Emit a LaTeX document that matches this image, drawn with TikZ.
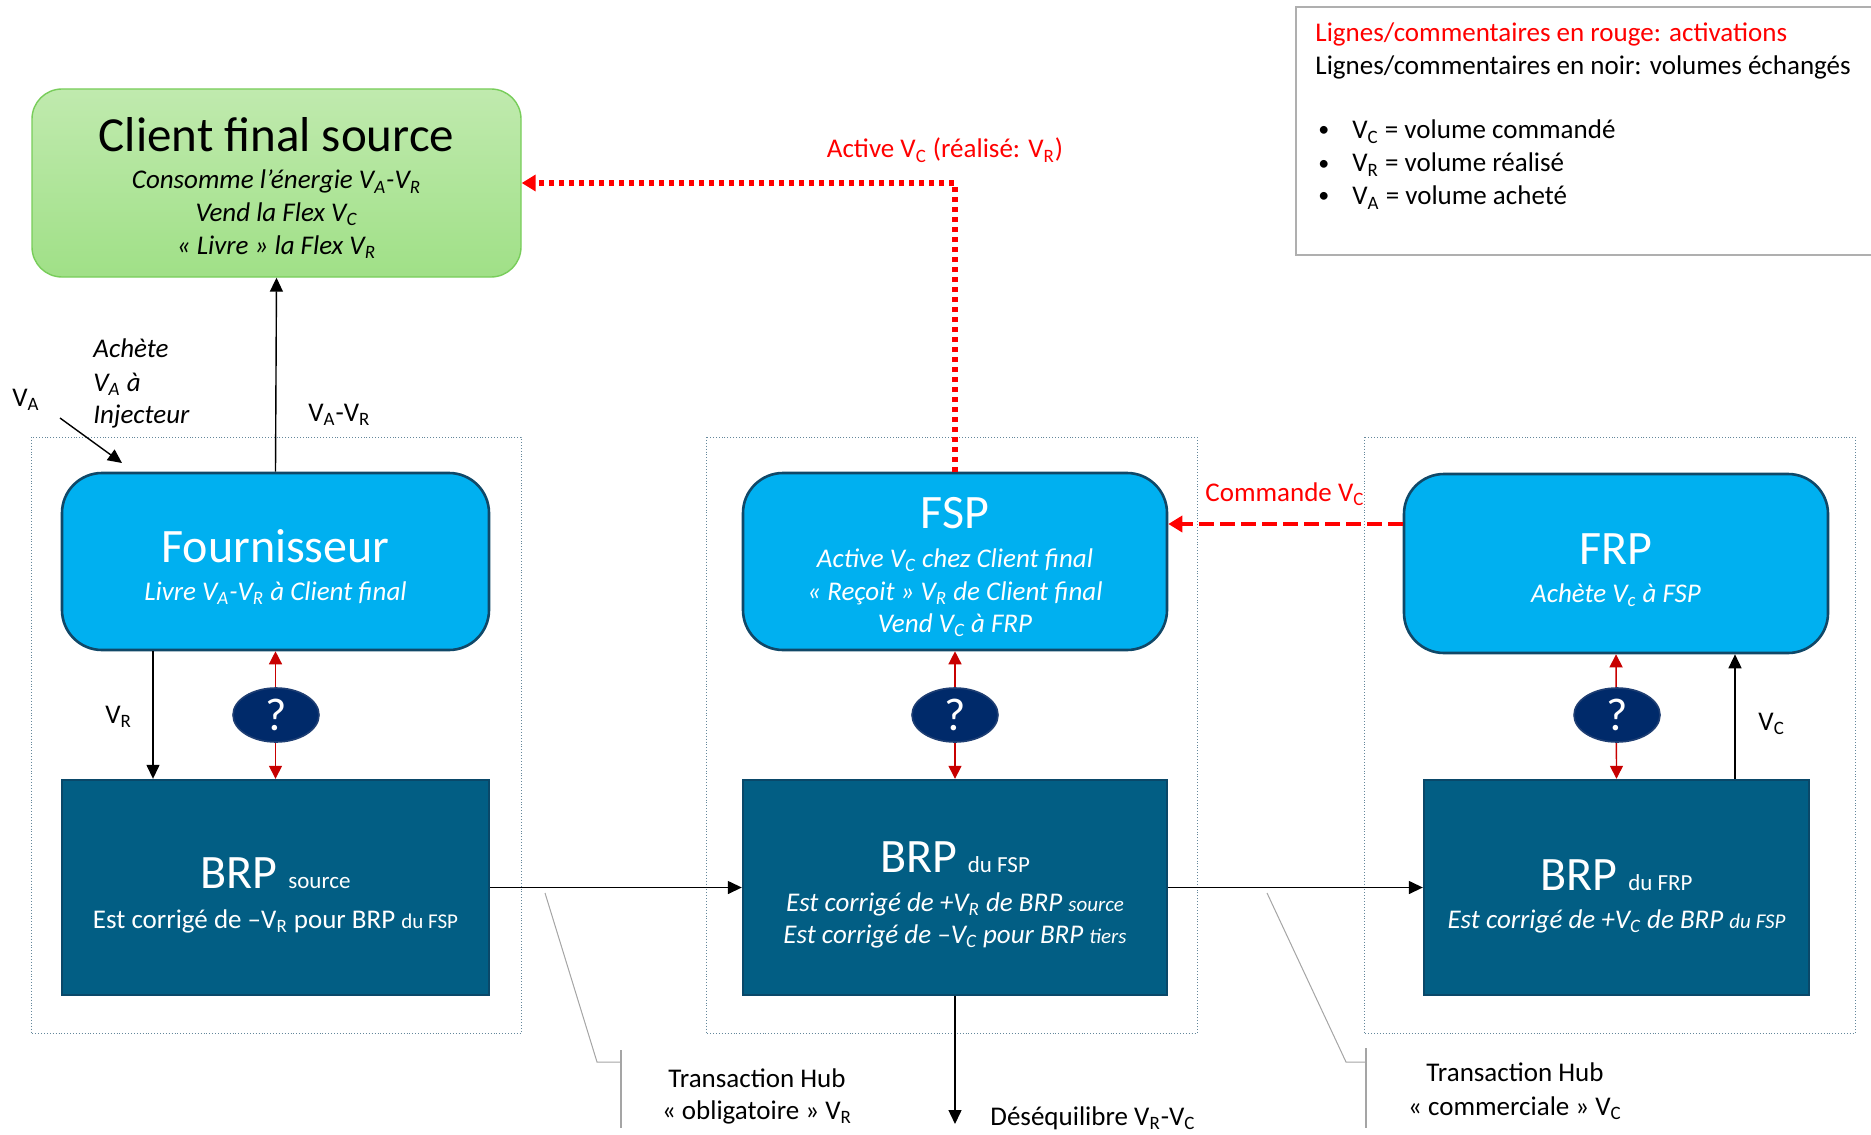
\documentclass[tikz,border=0pt]{standalone}
\usepackage{fontspec}
\setmainfont{Carlito}
\usetikzlibrary{arrows.meta,shapes.geometric,calc}
\definecolor{cgreenT}{RGB}{192,234,174}
\definecolor{cgreenB}{RGB}{160,224,135}
\definecolor{cgreenD}{RGB}{120,205,90}
\definecolor{lblue}{RGB}{0,176,240}
\definecolor{bordblue}{RGB}{16,72,104}
\definecolor{brpfill}{RGB}{2,94,132}
\definecolor{brpbord}{RGB}{10,72,105}
\definecolor{qfill}{RGB}{0,42,106}
\definecolor{qbord}{RGB}{30,62,115}
\definecolor{grpcol}{RGB}{100,135,155}
\definecolor{actred}{RGB}{255,0,0}
\definecolor{dred}{RGB}{200,0,0}
\definecolor{calgray}{RGB}{165,165,165}
\definecolor{leggray}{RGB}{175,175,175}
\tikzset{
  clientbox/.style={rounded corners=15pt, top color=cgreenT, bottom color=cgreenB, draw=cgreenD, line width=0.7pt, minimum width=244.5pt, minimum height=94pt, inner sep=0pt},
  actorbox/.style={rounded corners=20pt, fill=lblue, draw=bordblue, line width=1.3pt, minimum height=88.5pt, inner sep=0pt},
  brpbox/.style={fill=brpfill, draw=brpbord, line width=1.2pt, minimum height=107.5pt, inner sep=0pt},
  qnode/.style={ellipse, fill=qfill, draw=qbord, line width=0.8pt, minimum width=43pt, minimum height=27pt, inner sep=0pt, text=white, font=\fontsize{23}{25}\selectfont},
  grp/.style={draw=grpcol, densely dotted, line width=0.45pt},
  arr/.style={-{Triangle[length=7pt,width=6.5pt]}, line width=0.7pt, draw=black},
  dblred/.style={{Triangle[length=6.5pt,width=6.5pt]}-{Triangle[length=6.5pt,width=6.5pt]}, draw=dred, line width=0.7pt},
  actdot/.style={draw=actred, line width=2.6pt, dash pattern=on 2.6pt off 2.4pt, -{Triangle[length=7pt,width=8pt]}},
  cmddash/.style={draw=actred, line width=2.4pt, dash pattern=on 7.5pt off 3pt, -{Triangle[length=7pt,width=8pt]}},
  callout/.style={draw=calgray, line width=0.5pt},
  bracket/.style={draw=calgray, line width=0.7pt},
  ttl/.style={anchor=base, inner sep=0pt, font=\fontsize{24}{28}\selectfont},
  subi/.style={anchor=base, inner sep=0pt, font=\fontsize{13.5}{16}\selectfont\itshape},
  subr/.style={anchor=base, inner sep=0pt, font=\fontsize{13.5}{16}\selectfont},
  lbl/.style={anchor=base west, inner sep=0pt, font=\fontsize{13.5}{16}\selectfont},
  lblc/.style={anchor=base, inner sep=0pt, font=\fontsize{13.5}{16}\selectfont},
}
\newcommand{\sm}[1]{{\fontsize{10.5}{12}\selectfont #1}}
\newcommand{\smt}[1]{{\fontsize{11.5}{13}\selectfont #1}}
\begin{document}
\begin{tikzpicture}[x=0.5pt,y=-0.5pt]
\useasboundingbox (0,0) rectangle (1871,1134);
\fill[white] (0,0) rectangle (1871,1134);

% legend
\draw[leggray, line width=0.8pt] (1885,7) -- (1296,7) -- (1296,255) -- (1885,255);
\node[lbl, text=actred] (leg1) at (1315,42) {Lignes/commentaires en rouge: activations};
\node[lbl] (leg2) at (1315,75) {Lignes/commentaires en noir: volumes échangés};
\node[lbl, font=\fontsize{11}{13}\selectfont] (b1) at (1318,137) {•};
\node[lbl, font=\fontsize{11}{13}\selectfont] (b2) at (1318,170) {•};
\node[lbl, font=\fontsize{11}{13}\selectfont] (b3) at (1318,203) {•};
\node[lbl] (leg3) at (1352,139) {V\textsubscript{C} = volume commandé};
\node[lbl] (leg4) at (1352,172) {V\textsubscript{R} = volume réalisé};
\node[lbl] (leg5) at (1352,205) {V\textsubscript{A} = volume acheté};

% groups
\draw[grp] (31,437) rectangle (521,1033);
\draw[grp] (706,437) rectangle (1197,1033);
\draw[grp] (1364,437) rectangle (1855,1033);

% boxes
\node[clientbox] (client) at (276.5,183) {};
\node[actorbox, minimum width=213.5pt] (fourn) at (275.5,561.5) {};
\node[actorbox, minimum width=212pt] (fsp) at (955,561.5) {};
\node[actorbox, minimum width=212pt, minimum height=89.5pt] (frp) at (1616,563.5) {};
\node[brpbox, minimum width=213.5pt] (brps) at (275.5,887.5) {};
\node[brpbox, minimum width=212pt] (brpfsp) at (955,887.5) {};
\node[brpbox, minimum width=192.5pt] (brpfrp) at (1616.5,887.5) {};

% box texts
\node[ttl, font=\fontsize{24.5}{28}\selectfont] (clientT) at (276.5,152) {Client final source};
\node[subi] (clientL1) at (276.5,189) {Consomme l’énergie V\textsubscript{A}-V\textsubscript{R}};
\node[subi] (clientL2) at (276.5,221) {Vend la Flex V\textsubscript{C}};
\node[subi] (clientL3) at (276.5,254) {« Livre » la Flex V\textsubscript{R}};

\node[ttl, text=white] (fournT) at (275.5,562) {Fournisseur};
\node[subi, text=white] (fournL1) at (275.5,600) {Livre V\textsubscript{A}-V\textsubscript{R} à Client final};

\node[ttl, text=white] (fspT) at (955,528) {FSP};
\node[subi, text=white] (fspL1) at (955,567) {Active V\textsubscript{C} chez Client final};
\node[subi, text=white] (fspL2) at (955,600) {« Reçoit » V\textsubscript{R} de Client final};
\node[subi, text=white] (fspL3) at (955,632) {Vend V\textsubscript{C} à FRP};

\node[ttl, text=white] (frpT) at (1616,564) {FRP};
\node[subi, text=white] (frpL1) at (1616,602) {Achète V\textsubscript{c} à FSP};

\node[ttl, text=white] (brpsT) at (275.5,888) {BRP \smt{source}};
\node[subr, text=white] (brpsL1) at (275.5,928) {Est corrigé de –V\textsubscript{R} pour BRP \sm{du FSP}};

\node[ttl, text=white] (brpfspT) at (955,872) {BRP \smt{du FSP}};
\node[subi, text=white] (brpfspL1) at (955,911) {Est corrigé de +V\textsubscript{R} de BRP \sm{source}};
\node[subi, text=white] (brpfspL2) at (955,943) {Est corrigé de –V\textsubscript{C} pour BRP \sm{tiers}};

\node[ttl, text=white] (brpfrpT) at (1616.5,890) {BRP \smt{du FRP}};
\node[subi, text=white] (brpfrpL1) at (1616.5,928) {Est corrigé de +V\textsubscript{C} de BRP \sm{du FSP}};

% black connectors
\draw[arr] (fourn.north) -- (client.south);
\coordinate (vax0) at (60,418);
\coordinate (vax1) at (122,463);
\draw[arr] (vax0) -- (vax1);
\coordinate (vrx) at (153,0);
\draw[arr] (fourn.south -| vrx) -- (brps.north -| vrx);
\draw[arr] (brps.east) -- (brpfsp.west);
\draw[arr] (brpfsp.east) -- (brpfrp.west);
\coordinate (desq) at (955,1124);
\draw[arr] (brpfsp.south) -- (desq);
\coordinate (vcx) at (1735,0);
\draw[arr] (brpfrp.north -| vcx) -- (frp.south -| vcx);

% red activations
\draw[actdot] (fsp.north) |- (client.east);
\coordinate (cmdy) at (0,524);
\draw[cmddash] (frp.west |- cmdy) -- (fsp.east |- cmdy);

% red double arrows + question marks
\draw[dblred] (fourn.south) -- (brps.north);
\draw[dblred] (fsp.south) -- (brpfsp.north);
\draw[dblred] (frp.south) -- (brpfrp.north);
\node[qnode] (q1) at (276,715) {?};
\node[qnode] (q2) at (955,715) {?};
\node[qnode] (q3) at (1617,715) {?};

% labels
\node[lbl, font=\fontsize{13.5}{16}\selectfont\itshape] (ach1) at (93,357) {Achète};
\node[lbl, font=\fontsize{13.5}{16}\selectfont\itshape] (ach2) at (93,391) {V\textsubscript{A} à};
\node[lbl, font=\fontsize{13.5}{16}\selectfont\itshape] (ach3) at (93,423) {Injecteur};
\node[lbl] (vaL) at (12,406) {V\textsubscript{A}};
\node[lbl] (vavrL) at (308,421) {V\textsubscript{A}-V\textsubscript{R}};
\node[lbl] (vrL) at (105,723) {V\textsubscript{R}};
\node[lbl] (vcL) at (1758,730) {V\textsubscript{C}};
\node[lblc, text=actred] (actL) at (945,158) {Active V\textsubscript{C} (réalisé: V\textsubscript{R})};
\node[lbl, text=actred] (cmdL) at (1205,501) {Commande V\textsubscript{C}};
\node[lbl] (desL) at (990,1125) {Déséquilibre V\textsubscript{R}-V\textsubscript{C}};

% callouts
\coordinate (c1a) at (545,893);
\coordinate (c1b) at (597,1062);
\coordinate (c1c) at (621,1062);
\coordinate (c1t) at (621,1050);
\coordinate (c1u) at (621,1128);
\draw[callout] (c1a) -- (c1b) -- (c1c);
\draw[bracket] (c1t) -- (c1u);
\node[lblc] (th1a) at (757,1087) {Transaction Hub};
\node[lblc] (th1b) at (757,1119) {« obligatoire » V\textsubscript{R}};

\coordinate (c2a) at (1267,893);
\coordinate (c2b) at (1346,1062);
\coordinate (c2c) at (1366,1062);
\coordinate (c2t) at (1366,1048);
\coordinate (c2u) at (1366,1128);
\draw[callout] (c2a) -- (c2b) -- (c2c);
\draw[bracket] (c2t) -- (c2u);
\node[lblc] (th2a) at (1515,1081) {Transaction Hub};
\node[lblc] (th2b) at (1515,1115) {« commerciale » V\textsubscript{C}};
\end{tikzpicture}
\end{document}
